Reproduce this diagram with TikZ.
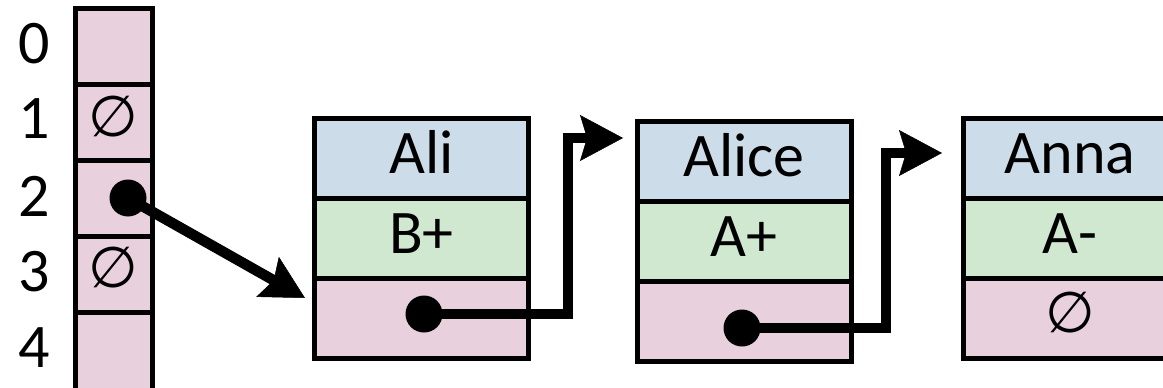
\documentclass[tikz,border=0pt]{standalone}
\usepackage{fontspec}
\setmainfont{Carlito}
\newfontfamily\symfont{DejaVu Sans}
\usetikzlibrary{arrows.meta}
\definecolor{cpink}{RGB}{233,208,221}
\definecolor{cblue}{RGB}{205,220,233}
\definecolor{cgreen}{RGB}{208,232,207}
\begin{document}
\begin{tikzpicture}[x=1pt,y=-1pt,
  cell/.style={draw=black,line width=5pt,rectangle,inner sep=0pt,minimum height=80pt,minimum width=214pt,text height=40pt,text depth=10pt,font=\fontsize{62}{62}\selectfont},
  acell/.style={draw=black,line width=5pt,rectangle,fill=cpink,inner sep=0pt,minimum height=76pt,minimum width=77pt},
  idx/.style={font=\fontsize{62}{62}\selectfont,inner sep=0pt},
  nul/.style={font=\symfont\fontsize{57}{57}\selectfont,inner sep=0pt},
  ptr/.style={line width=10.5pt,line join=miter,-{Stealth[length=43pt,width=46pt,inset=7pt,line width=0.5pt]}},
  dot/.style={circle,fill=black,minimum size=37pt,inner sep=0pt}]
\useasboundingbox (0,0) rectangle (1163,388);
\clip (0,0) rectangle (1163,388);
% array
\node[acell] (a0) at (113.5,46) {};
\node[acell] (a1) at (113.5,122) {};
\node[acell] (a2) at (113.5,198) {};
\node[acell] (a3) at (113.5,274) {};
\node[acell,minimum height=80pt] (a4) at (113.5,352) {};
\node[nul] (n1) at (113.5,117) {∅};
\node[nul] (n3) at (113.5,268) {∅};
\node[idx] (i0) at (34,44) {0};
\node[idx] (i1) at (34,119) {1};
\node[idx] (i2) at (34,196) {2};
\node[idx] (i3) at (34,272) {3};
\node[idx] (i4) at (34,348) {4};
% node 1
\node[cell,fill=cblue] (b1) at (421.5,158) {Ali};
\node[cell,fill=cgreen] (g1) at (421.5,238) {B+};
\node[cell,fill=cpink] (p1) at (421.5,318) {};
% node 2
\node[cell,fill=cblue] (b2) at (744,161) {Alice};
\node[cell,fill=cgreen] (g2) at (744,241) {A+};
\node[cell,fill=cpink] (p2) at (744,321) {};
% node 3
\node[cell,fill=cblue] (b3) at (1070,158) {Anna};
\node[cell,fill=cgreen] (g3) at (1070,238) {A-};
\node[cell,fill=cpink] (p3) at (1070,318) {};
\node[nul] (n5) at (1070,313) {∅};
% dots
\node[dot] (d0) at (128,198) {};
\node[dot] (d1) at (424,314) {};
\node[dot] (d2) at (742,328) {};
\coordinate (t0) at (305,298);
\coordinate (t1) at (623,138);
\coordinate (t2) at (942,153);
\draw[ptr] (d0.center) -- (t0);
\draw[ptr] (d1.center) -- (568,314) -- (568,138) -- (t1);
\draw[ptr] (d2.center) -- (886,328) -- (886,153) -- (t2);
\end{tikzpicture}
\end{document}
